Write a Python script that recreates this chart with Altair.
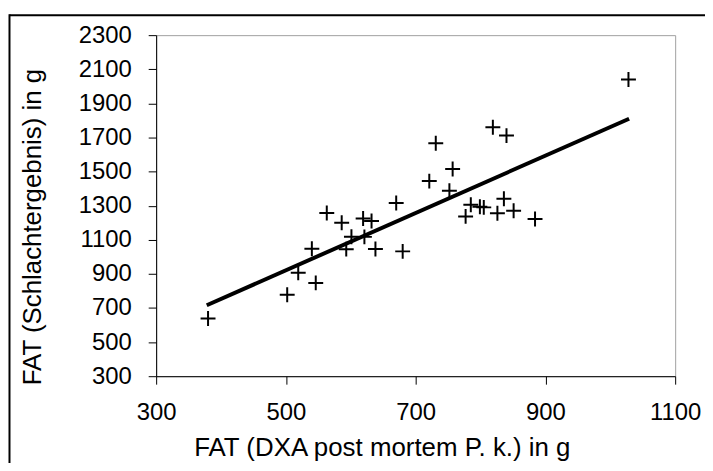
import altair as alt
import pandas as pd

# Scatter points
fat_dxa = [380, 502, 519, 546, 540, 563, 586, 593, 601, 621, 619, 632, 638, 670, 680,
           721, 731, 752, 757, 777, 785, 799, 805, 819, 840, 826, 836, 851, 884, 1028]
fat_schlacht = [638, 778, 907, 847, 1047, 1257, 1200, 1045, 1118, 1117, 1225, 1210, 1046, 1316, 1032,
                1444, 1666, 1388, 1515, 1237, 1305, 1294, 1290, 1760, 1711, 1256, 1341, 1270, 1222, 2040]

# Regression line endpoints
line_x = [378, 1029]
line_y = [716, 1810]

x_ticks = [300, 500, 700, 900, 1100]
y_ticks = [300, 500, 700, 900, 1100, 1300, 1500, 1700, 1900, 2100, 2300]

x_title = "FAT (DXA post mortem P. k.) in g"
y_title = "FAT (Schlachtergebnis) in g"

FONT = "Liberation Sans"

pts = pd.DataFrame({"x": fat_dxa, "y": fat_schlacht})
ln = pd.DataFrame({"x": line_x, "y": line_y})
one = pd.DataFrame({"a": [0]})

xscale = alt.Scale(domain=[300, 1100], nice=False, zero=False)
yscale = alt.Scale(domain=[300, 2300], nice=False, zero=False)

common = dict(grid=False, format="d", labelOverlap=False, labelFlush=False,
              labelFontSize=24, labelFont=FONT, labelColor="black",
              tickColor="black", domainColor="black", tickSize=8, labelPadding=17,
              titleFont=FONT, titleFontSize=26, titleFontWeight="normal",
              titleColor="black", titleAlign="center", titleBaseline="top")

xaxis = alt.Axis(values=x_ticks, title=x_title, titleX=227, titleY=59, **common)
yaxis = alt.Axis(values=y_ticks, title=y_title, titleX=-137, titleY=192.5, titleAngle=270, **common)

points = alt.Chart(pts).mark_point(
    shape="M-1,0H1M0,-1V1", size=225, filled=False, stroke="black", strokeWidth=2, opacity=1
).encode(
    x=alt.X("x:Q", scale=xscale, axis=xaxis),
    y=alt.Y("y:Q", scale=yscale, axis=yaxis),
)

reg = alt.Chart(ln).mark_line(color="black", strokeWidth=4).encode(
    x=alt.X("x:Q", scale=xscale, axis=xaxis),
    y=alt.Y("y:Q", scale=yscale, axis=yaxis),
)

border_top = alt.Chart(one).mark_rule(color="black", strokeWidth=2).encode(
    x=alt.value(-147.5), x2=alt.value(560), y=alt.value(-20)
)
border_left = alt.Chart(one).mark_rule(color="black", strokeWidth=2).encode(
    x=alt.value(-147.5), y=alt.value(-21), y2=alt.value(460)
)

chart = alt.layer(points, reg, border_top, border_left).properties(
    width=522,
    height=343,
    autosize=alt.AutoSizeParams(type="none"),
    padding={"left": 149, "top": 26, "right": 30, "bottom": 86},
    background="white",
).configure_view(
    stroke="#a0a0a0", strokeWidth=1
).configure_axis(labelOverlap=False)

chart.save("out.html", embed_options={"renderer": "svg", "actions": False})
